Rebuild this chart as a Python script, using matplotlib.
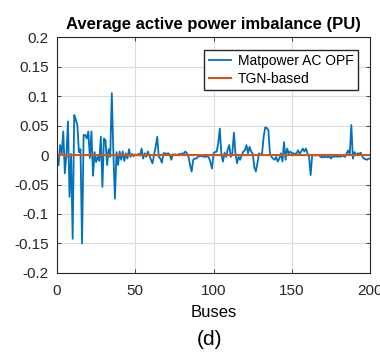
import matplotlib
matplotlib.use("Agg")
import matplotlib.pyplot as plt
import numpy as np

plt.rcParams["font.family"] = ["Liberation Sans", "DejaVu Sans"]
plt.rcParams["axes.unicode_minus"] = False

# Matpower AC OPF imbalance per bus (buses 1..200)
matpower = [
    -0.017, 0.017, 0.003, 0.040, -0.031, 0.000, 0.057, -0.071, 0.002, -0.142,
    0.068, 0.060, 0.051, 0.005, 0.010, -0.150, 0.034, 0.034, 0.028, 0.040,
    -0.005, 0.040, -0.035, 0.005, -0.012, -0.003, -0.010, 0.031, -0.054, 0.028,
    0.025, -0.017, 0.010, -0.003, 0.105, 0.003, -0.074, 0.005, -0.017, 0.006,
    -0.008, 0.006, -0.010, 0.003, -0.006, 0.010, -0.003, 0.002, -0.002, 0.001,
    0.000, 0.002, -0.001, 0.011, -0.006, 0.003, -0.003, 0.006, 0.000, -0.008,
    -0.014, 0.000, 0.014, 0.031, -0.003, -0.006, -0.013, 0.003, 0.003, 0.002,
    0.003, 0.001, -0.008, 0.001, 0.001, 0.001, 0.000, 0.002, 0.001, 0.003,
    0.002, 0.006, 0.003, -0.003, -0.017, -0.028, -0.008, -0.006, -0.006, -0.003,
    -0.002, -0.002, -0.002, -0.003, -0.003, -0.002, -0.004, -0.012, -0.023, 0.003,
    0.005, 0.006, 0.020, 0.045, 0.000, -0.011, 0.004, -0.003, 0.009, 0.017,
    -0.003, 0.003, 0.038, 0.003, -0.014, -0.003, -0.008, 0.000, 0.006, 0.008,
    0.017, 0.003, 0.014, 0.006, 0.003, -0.020, -0.028, -0.014, 0.003, 0.000,
    0.003, 0.031, 0.047, 0.046, 0.042, 0.003, -0.003, -0.006, -0.008, -0.003,
    -0.011, -0.006, 0.003, -0.011, 0.022, -0.008, 0.011, 0.003, 0.006, 0.003,
    0.003, 0.002, 0.003, 0.008, 0.002, 0.006, 0.011, 0.006, 0.011, 0.003,
    -0.003, -0.034, 0.000, 0.000, -0.001, 0.000, 0.000, -0.002, -0.004, -0.003,
    -0.004, -0.002, -0.004, -0.002, -0.006, -0.002, -0.003, -0.002, -0.003, -0.002,
    -0.003, -0.001, -0.002, -0.003, 0.003, 0.008, 0.000, 0.051, -0.006, 0.005,
    0.000, 0.003, 0.002, 0.004, -0.002, -0.006, -0.007, -0.008, -0.006, -0.006,
]

# TGN-based imbalance: nearly zero everywhere
tgn = [0.0] * 200
tgn[2] = 0.002
tgn[5] = -0.002
tgn[6] = -0.003
tgn[7] = -0.002

buses = np.arange(1, 201)

xticks = [0, 50, 100, 150, 200]
yticks = [-0.2, -0.15, -0.1, -0.05, 0, 0.05, 0.1, 0.15, 0.2]
ytick_labels = ["-0.2", "-0.15", "-0.1", "-0.05", "0", "0.05", "0.1", "0.15", "0.2"]

fig = plt.figure(figsize=(3.8, 3.54), dpi=100)
ax = fig.add_axes([0.15, 0.229, 0.824, 0.666])

ax.plot(buses, matpower, color="#0072BD", linewidth=1.3, label="Matpower AC OPF")
ax.plot(buses, tgn, color="#D95319", linewidth=1.5, label="TGN-based")

ax.set_xlim(0, 200)
ax.set_ylim(-0.2, 0.2)
ax.set_xticks(xticks)
ax.set_yticks(yticks)
ax.set_yticklabels(ytick_labels)
ax.tick_params(direction="in", top=True, right=True, labelsize=11, length=3,
               width=0.6, color="#262626", labelcolor="#262626")
ax.tick_params(axis="y", pad=6)
ax.tick_params(axis="x", pad=8)
ax.grid(True, color="#dddddd", linewidth=0.8)
for s in ax.spines.values():
    s.set_color("#262626")
    s.set_linewidth(0.8)

ax.set_title("Average active power imbalance (PU)", fontsize=12, fontweight="bold",
             pad=6)
ax.set_xlabel("Buses", fontsize=12, labelpad=-1)
ax.xaxis.set_label_coords(0.5, -0.135)
ax.legend(loc="upper right", fontsize=10, frameon=True, fancybox=False,
          edgecolor="#262626", framealpha=1, handlelength=1.6,
          borderpad=0.3, labelspacing=0.3, handletextpad=0.5,
          borderaxespad=0.9)

fig.text(0.55, 0.04, "(d)", fontsize=15, ha="center", va="center")

fig.savefig("out.png", dpi=100)
